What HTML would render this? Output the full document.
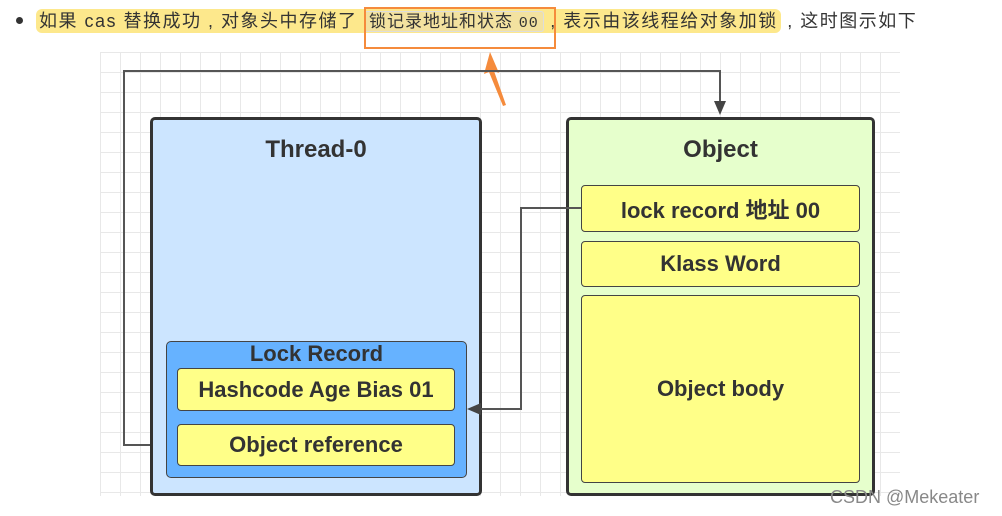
<!DOCTYPE html>
<html><head><meta charset="utf-8"><style>
body{margin:0;width:1002px;height:516px;background:#fff;position:relative;overflow:hidden;font-family:"Liberation Sans","Noto Sans CJK SC",sans-serif}
.a{position:absolute;box-sizing:border-box}
.grid{left:100px;top:52px;width:800px;height:444px;background-image:linear-gradient(#e8e8e8 1px,transparent 1px),linear-gradient(90deg,#e8e8e8 1px,transparent 1px);background-size:20px 20px}
.box{border:3px solid #333;border-radius:5px}
.y{background:#ffff88;border:1.5px solid #444;border-radius:4px;display:flex;align-items:center;justify-content:center;font-weight:bold;font-size:22px;color:#333;white-space:nowrap}
.t{font-weight:bold;font-size:24px;color:#333;text-align:center}
</style></head><body>
<div class="a" style="left:16px;top:17px;width:7px;height:7px;border-radius:50%;background:#333"></div>
<div class="a" style="left:36px;top:8px;font-size:18px;letter-spacing:1.5px;color:#333;white-space:nowrap;line-height:26px">
<span style="background:#fde88c;border-radius:6px;padding:2px 3px">如果 cas 替换成功 , 对象头中存储了 <span style="background:#f3e2a0;border:1px solid #ddd;border-radius:3px;padding:0 4px;font-size:17px;letter-spacing:1px">锁记录地址和状态 <span style="font-family:'Liberation Mono',monospace;font-size:15px">00</span></span> , 表示由该线程给对象加锁</span> , 这时图示如下</div>
<div class="a" style="left:364px;top:7px;width:192px;height:42px;border:2.5px solid #f58b3c"></div>
<div class="a grid"></div>
<svg class="a" style="left:0;top:0" width="1002" height="516">
<polygon points="490,52 484,74 489,72 503,106 506,105 494,71 499,73" fill="#f58b3c"/>
<polyline points="177,445 124,445 124,71 720,71 720,104" fill="none" stroke="#555" stroke-width="2"/>
<polygon points="714,101 726,101 720,115" fill="#444"/>
</svg>
<div class="a box" style="left:150px;top:117px;width:332px;height:379px;background:#cce5ff"><div class="t" style="margin-top:16px">Thread-0</div></div>
<div class="a box" style="left:566px;top:117px;width:309px;height:379px;background:#e6ffcc"><div class="t" style="margin-top:16px">Object</div></div>
<div class="a" style="left:166px;top:341px;width:301px;height:137px;background:#66b2ff;border:1.5px solid #444;border-radius:5px"><div class="t" style="font-size:22px;line-height:24px">Lock Record</div></div>
<div class="a y" style="left:177px;top:368px;width:278px;height:43px">Hashcode Age Bias 01</div>
<div class="a y" style="left:177px;top:424px;width:278px;height:42px">Object reference</div>
<div class="a y" style="left:581px;top:185px;width:279px;height:47px">lock record 地址 00</div>
<div class="a y" style="left:581px;top:241px;width:279px;height:46px">Klass Word</div>
<div class="a y" style="left:581px;top:295px;width:279px;height:188px">Object body</div>
<svg class="a" style="left:0;top:0" width="1002" height="516">
<polyline points="581,208 521,208 521,409 478,409" fill="none" stroke="#555" stroke-width="2"/>
<polygon points="467,409 481,403 481,415" fill="#444"/>
</svg>
<div class="a" style="left:830px;top:487px;font-size:18px;color:#888">CSDN @Mekeater</div>
</body></html>
